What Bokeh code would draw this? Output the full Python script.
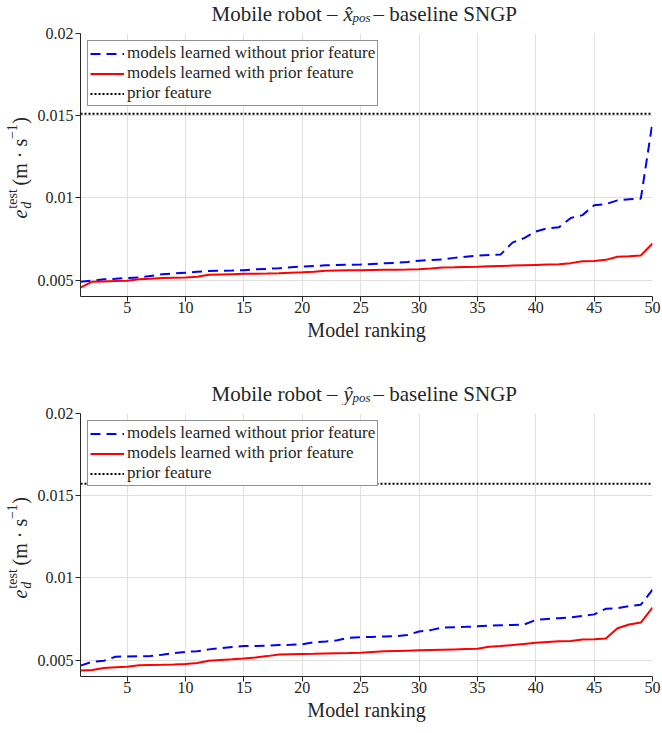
import math
from bokeh.plotting import figure
from bokeh.models import Label, FixedTicker, Range1d, Legend, LegendItem
from bokeh.layouts import column, row
from bokeh.embed import file_html
from bokeh.resources import INLINE

# ---------------- data ----------------
ranking = list(range(1, 51))

x_without = [0.00490, 0.00496, 0.00505, 0.00508, 0.00512, 0.00515, 0.00525, 0.00535, 0.00540, 0.00545,
             0.00550, 0.00555, 0.00557, 0.00558, 0.00560, 0.00565, 0.00568, 0.00572, 0.00578, 0.00582,
             0.00585, 0.00590, 0.00592, 0.00593, 0.00594, 0.00598, 0.00602, 0.00605, 0.00610, 0.00618,
             0.00622, 0.00626, 0.00635, 0.00642, 0.00648, 0.00652, 0.00656, 0.00728, 0.00755, 0.00795,
             0.00815, 0.00822, 0.00878, 0.00895, 0.00955, 0.00962, 0.00985, 0.00992, 0.00995, 0.01460]
x_with = [0.00454, 0.00490, 0.00492, 0.00494, 0.00496, 0.00505, 0.00508, 0.00512, 0.00514, 0.00516,
          0.00520, 0.00532, 0.00534, 0.00536, 0.00538, 0.00539, 0.00540, 0.00542, 0.00545, 0.00547,
          0.00550, 0.00556, 0.00558, 0.00559, 0.00560, 0.00561, 0.00562, 0.00563, 0.00564, 0.00566,
          0.00570, 0.00577, 0.00578, 0.00580, 0.00581, 0.00584, 0.00586, 0.00588, 0.00590, 0.00592,
          0.00594, 0.00596, 0.00603, 0.00614, 0.00616, 0.00623, 0.00642, 0.00645, 0.00650, 0.00722]
x_prior = 0.01512

y_without = [0.00466, 0.00490, 0.00496, 0.00520, 0.00522, 0.00523, 0.00525, 0.00533, 0.00542, 0.00550,
             0.00553, 0.00565, 0.00572, 0.00580, 0.00585, 0.00586, 0.00587, 0.00591, 0.00593, 0.00596,
             0.00609, 0.00613, 0.00620, 0.00636, 0.00639, 0.00641, 0.00643, 0.00645, 0.00652, 0.00674,
             0.00682, 0.00698, 0.00700, 0.00702, 0.00705, 0.00710, 0.00712, 0.00714, 0.00716, 0.00744,
             0.00750, 0.00755, 0.00760, 0.00768, 0.00778, 0.00812, 0.00815, 0.00828, 0.00837, 0.00928]
y_with = [0.00436, 0.00440, 0.00452, 0.00456, 0.00460, 0.00468, 0.00470, 0.00471, 0.00473, 0.00476,
          0.00482, 0.00496, 0.00501, 0.00505, 0.00510, 0.00516, 0.00524, 0.00534, 0.00536, 0.00537,
          0.00538, 0.00540, 0.00542, 0.00543, 0.00545, 0.00549, 0.00553, 0.00555, 0.00557, 0.00559,
          0.00561, 0.00563, 0.00565, 0.00567, 0.00569, 0.00581, 0.00585, 0.00591, 0.00598, 0.00605,
          0.00610, 0.00614, 0.00616, 0.00625, 0.00627, 0.00631, 0.00694, 0.00716, 0.00728, 0.00819]
y_prior = 0.01573

x_ticks = [5, 10, 15, 20, 25, 30, 35, 40, 45, 50]
y_ticks = [0.005, 0.01, 0.015, 0.02]
y_tick_labels = ["0.005", "0.01", "0.015", "0.02"]
legend_labels = ["models learned without prior feature", "models learned with prior feature", "prior feature"]
title_state = ["x\u0302", "y\u0302"]
x_label = "Model ranking"

FONT = "'Liberation Serif', 'DejaVu Serif', serif"
AX = "#262626"
LEFT_W = 34        # strip holding the rotated y label
BORDER_L = 46
BORDER_R = 9
BORDER_T = 8       # room for the top tick label
FRAME_W = 572
FRAME_H = 263
AXIS_H = 55        # expected room below the frame (ticks + x label)
MAIN_H = BORDER_T + FRAME_H + AXIS_H
FULL_W = LEFT_W + BORDER_L + FRAME_W + BORDER_R
TOP_H = 25
MID_H = 54
MID_EM = 0.32      # distance baseline -> text middle, in em


def lbl(p, text, x, y, size, align="left", italic=False, angle=0.0):
    """Place a text whose alphabetic baseline passes through (x, y) (page px)."""
    off = MID_EM * size
    if angle:
        ax, ay = x - off, y          # rotated 90 deg: glyph 'up' points to the left
    else:
        ax, ay = x, y - off
    p.add_layout(Label(x=ax, y=ay, x_units="data", y_units="data", text=text,
                       text_font=FONT, text_font_size=f"{size}px", text_color=AX,
                       text_align=align, text_baseline="middle",
                       text_font_style="italic" if italic else "normal",
                       angle=angle, angle_units="rad"))


def strip(w, h, y_bottom, y_top):
    # data coordinates of a strip's frame = page pixel coordinates (y grows downward)
    s = figure(width=w, height=h, min_border=0, min_border_left=0, min_border_right=0,
               min_border_top=0, min_border_bottom=0, x_axis_type=None, y_axis_type=None,
               x_range=Range1d(0, w), y_range=Range1d(y_bottom, y_top),
               output_backend="svg", toolbar_location=None)
    s.grid.visible = False
    s.outline_line_color = None
    s.background_fill_color = "white"
    s.border_fill_color = "white"
    return s


def title_strip(h, top, state, base):
    s = strip(FULL_W, h, top + h, top)
    lbl(s, "Mobile robot \u2013", 337, base, 21, align="right")
    lbl(s, state, 343, base, 21, italic=True)
    lbl(s, "pos", 352, base + 1.5, 13, italic=True)
    lbl(s, "\u2013 baseline SNGP", 373, base, 21)
    return s


def ylabel_strip(top):
    # in a row, this strip's frame is aligned with the plot frame next to it
    f_top = top + BORDER_T
    f_bot = f_top + FRAME_H
    s = strip(LEFT_W, MAIN_H, f_bot, f_top)
    c = (f_top + f_bot) / 2
    a = math.pi / 2
    lbl(s, "e", 26, c + 48, 20, italic=True, angle=a)
    lbl(s, "d", 30, c + 38.5, 14, italic=True, angle=a)
    lbl(s, "test", 16, c + 38.5, 14, angle=a)
    lbl(s, "(m \u00b7 s", 26, c + 16, 20, angle=a)
    lbl(s, "\u22121", 16, c - 29, 14, angle=a)
    lbl(s, ")", 26, c - 44, 20, angle=a)
    return s


def make(without, with_, prior):
    p = figure(frame_width=FRAME_W, frame_height=FRAME_H, min_border_left=BORDER_L,
               min_border_right=BORDER_R, min_border_top=BORDER_T, min_border_bottom=0,
               x_range=Range1d(1, 50), y_range=Range1d(0.004, 0.02),
               output_backend="svg", toolbar_location=None)
    p.outline_line_color = None
    p.background_fill_color = "white"
    p.border_fill_color = "white"

    for ax in (p.xaxis[0], p.yaxis[0]):
        ax.axis_line_color = AX
        ax.major_tick_line_color = AX
        ax.major_tick_out = 5
        ax.major_tick_in = 0
        ax.minor_tick_line_color = None
        ax.major_label_text_font = FONT
        ax.major_label_text_font_size = "16px"
        ax.major_label_text_color = AX
    p.xaxis.ticker = FixedTicker(ticks=x_ticks)
    p.yaxis.ticker = FixedTicker(ticks=y_ticks)
    p.yaxis.major_label_overrides = {t: s for t, s in zip(y_ticks, y_tick_labels)}
    p.xaxis.major_label_standoff = 0
    p.yaxis.major_label_standoff = 2
    p.xaxis.axis_label = x_label
    p.xaxis.axis_label_text_font = FONT
    p.xaxis.axis_label_text_font_size = "20px"
    p.xaxis.axis_label_text_font_style = "normal"
    p.xaxis.axis_label_text_color = AX
    p.xaxis.axis_label_standoff = 3
    p.xgrid.ticker = FixedTicker(ticks=x_ticks)
    p.ygrid.ticker = FixedTicker(ticks=y_ticks)
    p.grid.grid_line_color = "#e0e0e0"
    p.grid.grid_line_width = 1

    r1 = p.line(ranking, without, line_color="#0000ff", line_width=2, line_dash="10 6")
    r2 = p.line(ranking, with_, line_color="#ff0000", line_width=2)
    r3 = p.line(ranking, [prior] * len(ranking), line_color="black", line_width=2, line_dash="2 2")

    leg = Legend(items=[LegendItem(label=legend_labels[0], renderers=[r1]),
                        LegendItem(label=legend_labels[1], renderers=[r2]),
                        LegendItem(label=legend_labels[2], renderers=[r3])],
                 location="top_left", margin=7, padding=2, spacing=0,
                 label_height=19, glyph_height=19, glyph_width=34, label_standoff=3,
                 label_text_font=FONT, label_text_font_size="17px", label_text_color=AX,
                 border_line_color=AX, border_line_width=1, background_fill_alpha=1)
    p.add_layout(leg, "center")
    return p


top1 = 0
row1_top = top1 + TOP_H
mid_top = row1_top + MAIN_H
row2_top = mid_top + MID_H

top_title = title_strip(TOP_H, top1, title_state[0], 20)
row1 = row(ylabel_strip(row1_top), make(x_without, x_with, x_prior), spacing=0)
mid_title = title_strip(MID_H, mid_top, title_state[1], row2_top - 5)
row2 = row(ylabel_strip(row2_top), make(y_without, y_with, y_prior), spacing=0)

layout = column(top_title, row1, mid_title, row2, spacing=0)

open("out.html", "w").write(file_html(layout, INLINE))
